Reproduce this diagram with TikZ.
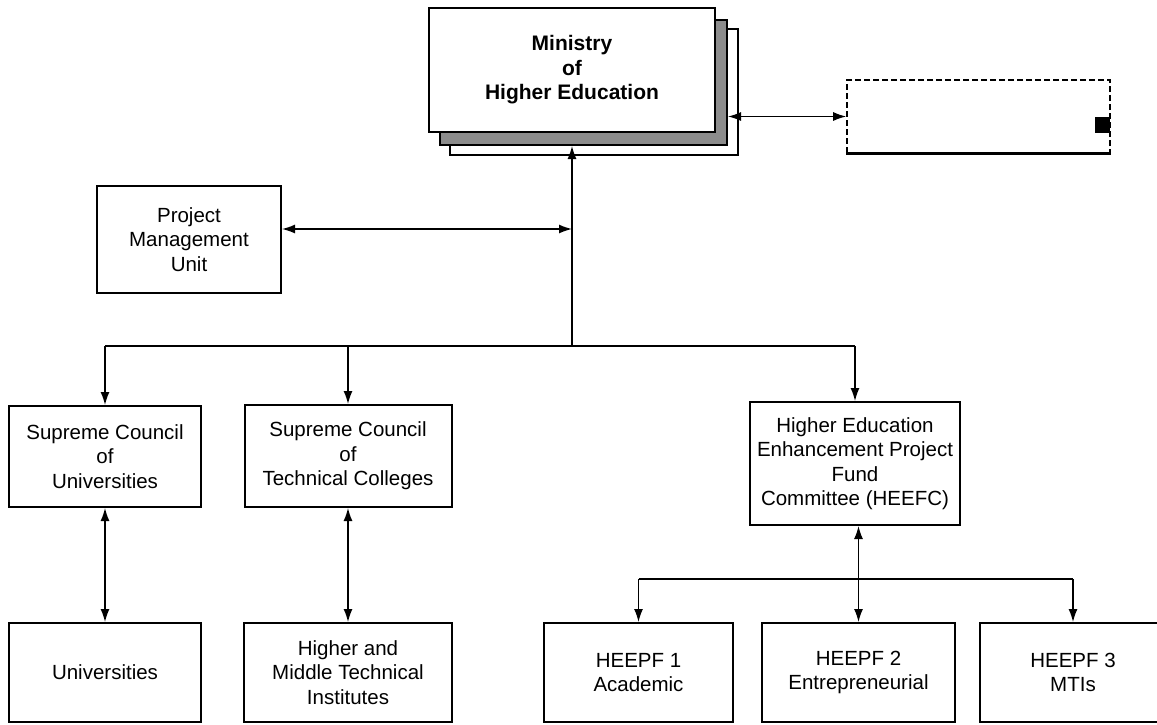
\documentclass[tikz,border=0pt]{standalone}
\usepackage{fontspec}
\setmainfont{Liberation Sans}
\usepackage{tikz}
\usetikzlibrary{arrows.meta}

\begin{document}
\begin{tikzpicture}[x=1pt, y=-1pt,
    every node/.style={font=\fontsize{20.5}{24.5}\selectfont, align=center, inner sep=0pt},
    box/.style={draw, line width=2pt, fill=white},
    link/.style={line width=1.4pt},
    tip/.style={-{Latex[length=13pt,width=9pt]}},
    tips/.style={{Latex[length=13pt,width=9pt]}-{Latex[length=13pt,width=9pt]}}]
            \clip (0,0) rectangle (1157,724);

            % Ministry with its stacked copies
            \node[box, line width=1.6pt, minimum width=288pt, minimum height=126pt] (ministryback) at (594,92) {};
            \node[box, fill=black!45, minimum width=287pt, minimum height=125pt] (ministrymid) at (583.5,82.5) {};
            \node[box, minimum width=286pt, minimum height=124pt, font=\fontsize{21}{24.5}\selectfont\bfseries] (ministry) at (572,70) {Ministry\\of\\Higher Education};

            % Box on the right (text not legible)
            \node[draw, dash pattern=on 6pt off 3pt, line width=1.6pt, minimum width=263pt, minimum height=73pt] (secretariat) at (978.5,116.5) {};
            \draw[line width=3pt] (secretariat.south west) -- (secretariat.south east);
            \fill (1095,117) rectangle (1110,133);
            \draw[link, tips] (secretariat.west -| ministrymid.east) -- (secretariat.west);

            % Project management unit
            \node[box, minimum width=184pt, minimum height=107pt] (pmu) at (189,239.5) {Project\\Management\\Unit};

            % Middle row
            \node[box, minimum width=192pt, minimum height=101pt] (scu) at (105,456.5) {Supreme Council\\of\\Universities};
            \node[box, minimum width=207pt, minimum height=102pt] (sctc) at (348,456) {Supreme Council\\of\\Technical Colleges};
            \node[box, minimum width=210pt, minimum height=123pt] (heefc) at (855,463.5) {Higher Education\\Enhancement Project\\Fund\\Committee (HEEFC)};

            % Bottom row
            \node[box, minimum width=192pt, minimum height=99pt] (univ) at (105,672.5) {Universities};
            \node[box, minimum width=208pt, minimum height=99pt] (hmti) at (348,672.5) {Higher and\\Middle Technical\\Institutes};
            \node[box, minimum width=189pt, minimum height=99pt] (heepfa) at (638.5,672.5) {HEEPF 1\\Academic};
            \node[box, minimum width=193pt, minimum height=99pt] (heepfb) at (858.5,672.5) {HEEPF 2\\Entrepreneurial};
            \node[box, minimum width=186pt, minimum height=99pt] (heepfc) at (1073,672.5) {HEEPF 3\\MTIs};

            % Connections from the ministry
            \coordinate (hub) at (572,346);
            \coordinate (pmujoin) at (572,229);
            \draw[link, tip] (hub) -- (ministry.south |- ministrymid.south);
            \draw[link, tips] (pmu.east |- pmujoin) -- (pmujoin);
            \draw[link] (scu.north |- hub) -- (heefc.north |- hub);
            \draw[link, tip] (scu.north |- hub) -- (scu.north);
            \draw[link, tip] (sctc.north |- hub) -- (sctc.north);
            \draw[link, tip] (heefc.north |- hub) -- (heefc.north);

            % Councils to institutions
            \draw[link, tips] (scu.south) -- (univ.north);
            \draw[link, tips] (sctc.south) -- (hmti.north);

            % Fund committee to the three windows
            \coordinate (fundbus) at (858.5,579);
            \draw[link, tips] (heepfb.north |- heefc.south) -- (heepfb.north);
            \draw[link] (heepfa.north |- fundbus) -- (heepfc.north |- fundbus);
            \draw[link, tip] (heepfa.north |- fundbus) -- (heepfa.north);
            \draw[link, tip] (heepfc.north |- fundbus) -- (heepfc.north);

        \end{tikzpicture}
\end{document}
